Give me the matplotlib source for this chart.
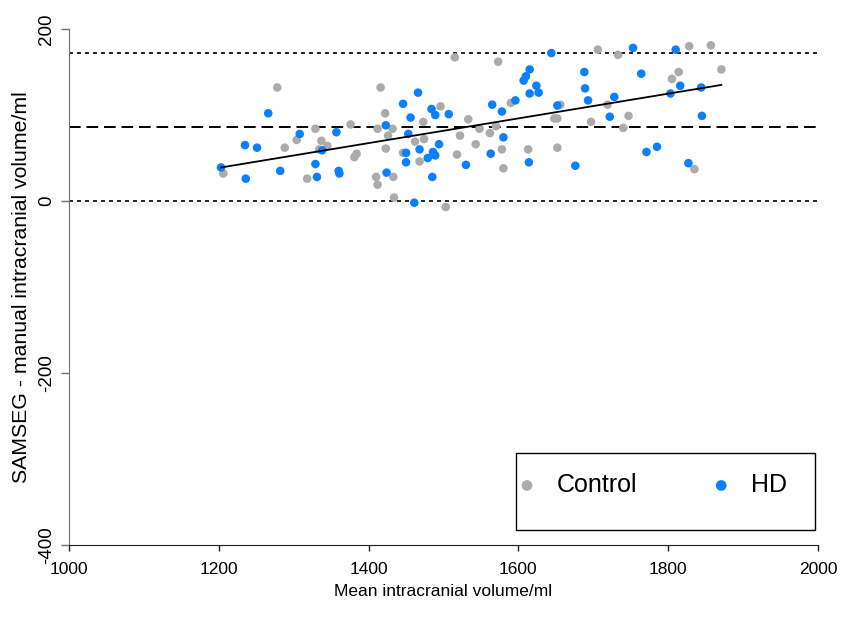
import matplotlib
matplotlib.use("Agg")
import matplotlib.pyplot as plt
from matplotlib import font_manager
from matplotlib.patches import Rectangle

# ---------------- data ----------------
control_x = [1206, 1278, 1288, 1304, 1318, 1329, 1334, 1337, 1345, 1376, 1381, 1384,
             1410, 1412, 1412, 1416, 1422, 1423, 1426, 1432, 1433, 1434, 1446, 1462,
             1468, 1473, 1474, 1496, 1503, 1515, 1518, 1522, 1533, 1543, 1548, 1562,
             1570, 1573, 1578, 1580, 1590, 1613, 1648, 1652, 1652, 1656, 1697, 1706,
             1719, 1733, 1740, 1747, 1805, 1814, 1828, 1835, 1857, 1871]
control_y = [32, 132, 62, 71, 26, 84, 60, 70, 64, 89, 51, 55,
             28, 19, 84, 132, 102, 61, 76, 84, 28, 4, 56, 69,
             46, 92, 72, 110, -7, 167, 54, 76, 95, 66, 84, 79,
             87, 162, 60, 38, 114, 60, 96, 96, 62, 112, 92, 176,
             112, 170, 85, 99, 142, 150, 180, 37, 181, 153]

hd_x = [1203, 1235, 1236, 1251, 1266, 1282, 1308, 1329, 1331, 1338, 1357, 1360,
        1361, 1423, 1424, 1446, 1450, 1450, 1453, 1456, 1461, 1466, 1468, 1479,
        1484, 1485, 1486, 1489, 1489, 1494, 1507, 1530, 1563, 1565, 1578, 1580,
        1596, 1607, 1610, 1614, 1615, 1615, 1624, 1627, 1644, 1652, 1676, 1688,
        1689, 1693, 1722, 1728, 1753, 1764, 1771, 1785, 1803, 1810, 1816, 1827,
        1844, 1845]
hd_y = [39, 65, 26, 62, 102, 35, 78, 43, 28, 59, 80, 35,
        32, 88, 33, 113, 56, 45, 78, 97, -2, 126, 60, 50,
        107, 28, 57, 53, 100, 66, 101, 42, 55, 112, 104, 74,
        117, 140, 145, 45, 153, 125, 134, 126, 172, 111, 41, 150,
        131, 117, 98, 121, 178, 148, 57, 63, 125, 176, 134, 44,
        132, 99]

mean_diff = 86
loa_lower = 0
loa_upper = 172
fit_x = [1203, 1871]
fit_y = [39, 135]

series_labels = ["Control", "HD"]
x_ticks = [1000, 1200, 1400, 1600, 1800, 2000]
y_ticks = [-400, -200, 0, 200]
x_title = "Mean intracranial volume/ml"
y_title = "SAMSEG - manual intracranial volume/ml"

# ---------------- style ----------------
names = {f.name for f in font_manager.fontManager.ttflist}
narrow = "Liberation Sans Narrow" if "Liberation Sans Narrow" in names else "Liberation Sans"
xfs = 13.5 if narrow == "Liberation Sans Narrow" else 12.5
plt.rcParams['font.family'] = ['Liberation Sans', 'DejaVu Sans']

gray = "#ababab"
blue = "#0a80ff"

fig = plt.figure(figsize=(8.44, 6.26), dpi=100)
ax = fig.add_axes([69/844, 1-545/626, 749/844, 516/626])

ax.axhline(loa_upper, color="black", lw=1.2, ls=(0, (2.4, 2.4)))
ax.axhline(loa_lower, color="black", lw=1.2, ls=(0, (2.4, 2.4)))
ax.axhline(mean_diff, color="black", lw=1.4, ls=(0, (6.0, 3.0)))

ax.scatter(control_x, control_y, s=38, color=gray, edgecolors="none", zorder=3, label=series_labels[0])
ax.scatter(hd_x, hd_y, s=38, color=blue, edgecolors="none", zorder=3, label=series_labels[1])
ax.plot(fit_x, fit_y, color="black", lw=1.3, zorder=4)

ax.set_xlim(1000, 2000)
ax.set_ylim(-400, 200)
ax.set_xticks(x_ticks)
ax.set_yticks(y_ticks)
ax.set_xticklabels([str(v) for v in x_ticks], fontsize=xfs, family=narrow)
ax.set_yticklabels([str(v) for v in y_ticks], fontsize=13.5, rotation=90, va="center")

for s in ["top", "right"]:
    ax.spines[s].set_visible(False)
ax.spines["left"].set_color("#707070")
ax.spines["bottom"].set_color("#202020")
ax.tick_params(axis="y", direction="out", length=6, width=1, colors="#707070", labelcolor="black", pad=4)
ax.tick_params(axis="x", direction="out", length=4, width=1, colors="#202020", labelcolor="black", pad=8)

ax.set_xlabel(x_title, fontsize=xfs, family=narrow, labelpad=5)
ax.set_ylabel(y_title, fontsize=15.3, labelpad=5)

# legend box
ax.add_patch(Rectangle((447/749, 15/516), 299/749, 77/516, transform=ax.transAxes,
                       facecolor="white", edgecolor="black", lw=1.0, clip_on=False, zorder=5))
leg = ax.legend(loc="center left", bbox_to_anchor=(448/749, 60/516), ncol=2, frameon=False,
                fontsize=18, handlelength=0.8, handletextpad=0.8, columnspacing=2.95,
                borderpad=0, borderaxespad=0, markerscale=1.25)
leg.set_zorder(6)

fig.savefig("out.png", dpi=100)
